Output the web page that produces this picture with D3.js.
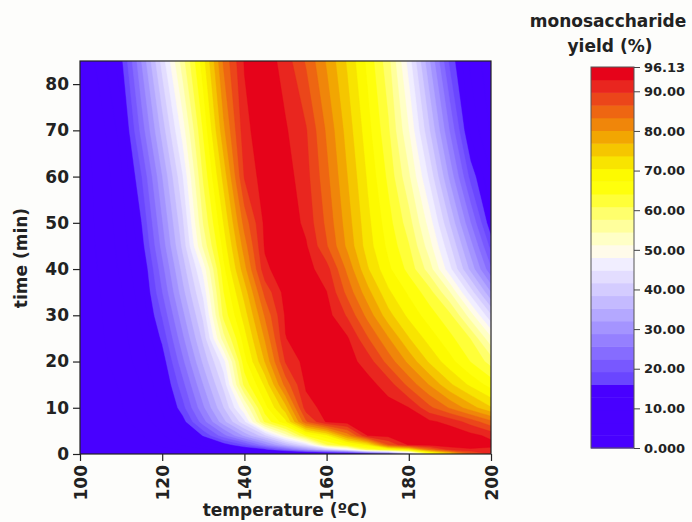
<!DOCTYPE html>
<html>
<head>
<meta charset="utf-8">
<script src="https://cdn.jsdelivr.net/npm/d3@7.9.0/dist/d3.min.js"></script>
<style>
  body { margin: 0; background: #fdfdfb; }
  svg { display: block; }
  text { font-family: "DejaVu Sans", sans-serif; font-weight: bold; fill: #222; }
</style>
</head>
<body>
<svg id="chart" width="692" height="522"></svg>
<script>
// grid of the response surface
const temps = [100, 105, 110, 115, 120, 125, 130, 135, 140, 145, 150, 155, 160, 165, 170, 175, 180, 185, 190, 195, 200];
const times = [0, 1, 2, 4, 7, 10, 15, 20, 25, 30, 35, 40, 45, 50, 60, 70, 85];

// yield (%) along temperature, one array per time (min)
const yieldT0  = [0, 0, 0, 0, 0, 0, 0, 0, 0.5, 1, 1.5, 2, 2.5, 3, 8, 16, 35, 58, 72, 85, 90];
const yieldT1  = [0.1, 0.3, 0.6, 1.2, 2.2, 3.8, 6, 9, 12, 15, 22.6, 30.8, 39, 47.2, 61.7, 66, 70.3, 83.7, 91, 92.5, 92];
const yieldT2  = [0.2, 0.5, 1, 2, 4, 7, 10.5, 14, 19.3, 27.5, 35.8, 44, 60.5, 65.7, 71, 86.4, 93.3, 94.2, 94.8, 94.8, 94];
const yieldT4  = [0.3, 0.8, 1.5, 3, 6, 10.5, 16.3, 24.5, 32.7, 40.8, 52.5, 64.4, 69.8, 81, 93, 94, 95, 96, 95.5, 94, 92];
const yieldT7  = [0.5, 1, 2.5, 4.5, 8.5, 14.5, 24.3, 34.2, 44, 61.6, 69.6, 86, 93.4, 94.5, 95.6, 95.4, 94.5, 93.6, 91.8, 88.3, 84];
const yieldT10 = [0.5, 1.5, 3, 5.5, 10, 18, 28.2, 38.4, 50.8, 66, 75.6, 91.5, 94.1, 95.5, 95.3, 94.2, 93, 87.3, 82.9, 78.4, 74];
const yieldT15 = [1, 2, 3.5, 6.5, 12, 21.3, 32, 42.7, 61.8, 71.1, 84.5, 93.5, 95.1, 95.5, 94.1, 91.5, 85.5, 79.9, 74.3, 69.8, 66];
const yieldT20 = [1, 2.5, 4.5, 8, 14, 24.8, 35.9, 46.9, 66, 77.1, 90, 94.2, 96, 94.3, 91.5, 85.2, 79.2, 73.2, 68.4, 64, 59.5];
const yieldT25 = [1, 2.8, 5, 9.3, 16.7, 28, 39.4, 56.5, 69, 80.4, 92.8, 94.8, 95.3, 93.4, 86.8, 80.4, 73.9, 69.1, 65, 60.8, 52];
const yieldT30 = [1, 3, 5.5, 10.5, 19.5, 31, 42.5, 62, 72, 83.7, 93.4, 95.6, 94.3, 89.3, 82.1, 74.9, 69.6, 65.6, 61.6, 52.8, 42];
const yieldT35 = [1.2, 3.2, 6, 11.5, 22.3, 34, 45.7, 64.1, 75, 87.5, 94.3, 95.3, 93, 85.5, 78, 71.1, 66.7, 62.2, 54.5, 43.4, 32];
const yieldT40 = [1.5, 3.5, 7, 12.5, 24.4, 36.5, 49.1, 66.5, 78.9, 92, 95.5, 94.2, 91, 82.5, 74, 68, 63, 56, 45.7, 34.3, 22.9];
const yieldT45 = [1.5, 3.8, 7.5, 14.5, 26.8, 39.3, 55.2, 68.7, 81.7, 93.4, 96, 93.3, 86.8, 79.4, 72, 66.5, 61.1, 52.6, 42.1, 30.2, 18];
const yieldT50 = [1.5, 4, 8, 16, 28.5, 41, 57.8, 70.8, 84.5, 93.8, 95.4, 92, 85.7, 78.5, 71.4, 65.4, 59.1, 49.8, 38.2, 25.8, 13.5];
const yieldT60 = [2, 4, 9, 19.1, 31.9, 44.7, 61.3, 75, 90, 94.8, 94.4, 90.9, 84.2, 77, 70, 63.3, 55, 44.1, 31.1, 18.1, 10];
const yieldT70 = [2, 5, 11, 23.7, 36.5, 49.5, 64.5, 79.5, 91.8, 95.4, 93.3, 90, 82.8, 75.6, 68.5, 61.4, 51.3, 38.7, 25.3, 12, 6];
const yieldT85 = [3, 8, 15, 29, 43, 56.3, 69.3, 84, 93.2, 95, 91.4, 86.1, 79.7, 73.3, 66.4, 58.8, 46.6, 32.4, 18.3, 9, 4];

const yieldRows = [yieldT0, yieldT1, yieldT2, yieldT4, yieldT7, yieldT10, yieldT15, yieldT20, yieldT25,
                   yieldT30, yieldT35, yieldT40, yieldT45, yieldT50, yieldT60, yieldT70, yieldT85];

const xTicks = [100, 120, 140, 160, 180, 200];
const yTicks = [0, 10, 20, 30, 40, 50, 60, 70, 80];
const barTicks = [0, 10, 20, 30, 40, 50, 60, 70, 80, 90, 96.13];
const barLabels = ["0.000", "10.00", "20.00", "30.00", "40.00", "50.00", "60.00", "70.00", "80.00", "90.00", "96.13"];
const yieldMax = 96.13;

// 30 colour levels, bottom to top
const bandColors = [
  "#4800ff", "#4800ff", "#4800ff", "#4800ff", "#4800ff",
  "#6a46ff", "#7858ff", "#866cff", "#9580ff", "#a494ff",
  "#b4a8ff", "#c4baff", "#d4ccff", "#e3ddff", "#f1eeff",
  "#fffbea", "#ffffc6", "#ffff9c", "#ffff6c", "#ffff38",
  "#ffff0c", "#fdfa00", "#f8e400", "#f5c600", "#f2a602",
  "#f0860a", "#ee6612", "#eb461a", "#e9261f", "#e6031a"
];

const svg = d3.select("#chart");
const plot = { left: 80, right: 491, top: 61, bottom: 454 };

const x = d3.scaleLinear().domain([100, 200]).range([plot.left, plot.right]);
const y = d3.scaleLinear().domain([0, 85]).range([plot.bottom, plot.top]);

const colorScale = d3.scaleQuantize().domain([0, yieldMax]).range(bandColors);
const thresholds = [0].concat(colorScale.thresholds());

// grid index -> data value (piecewise linear over the read grid)
const tempOfIndex = d3.scaleLinear().domain(d3.range(temps.length)).range(temps).clamp(true);
const timeOfIndex = d3.scaleLinear().domain(d3.range(times.length)).range(times).clamp(true);

const nx = temps.length, ny = times.length;
const values = [];
yieldRows.forEach(row => row.forEach(v => values.push(v)));

const contours = d3.contours().size([nx, ny]).thresholds(thresholds)(values);

const gridToScreen = d3.geoTransform({
  point(px, py) {
    this.stream.point(x(tempOfIndex(px - 0.5)), y(timeOfIndex(py - 0.5)));
  }
});
const path = d3.geoPath(gridToScreen);

svg.append("clipPath").attr("id", "plotClip")
  .append("rect")
  .attr("x", plot.left).attr("y", plot.top)
  .attr("width", plot.right - plot.left).attr("height", plot.bottom - plot.top);

svg.append("g")
  .attr("clip-path", "url(#plotClip)")
  .selectAll("path")
  .data(contours)
  .join("path")
  .attr("d", path)
  .attr("fill", (d, i) => bandColors[i])
  .attr("stroke", (d, i) => bandColors[i])
  .attr("stroke-width", 0.4);

svg.append("rect")
  .attr("x", plot.left).attr("y", plot.top)
  .attr("width", plot.right - plot.left).attr("height", plot.bottom - plot.top)
  .attr("fill", "none").attr("stroke", "#222").attr("stroke-width", 1.2);

// axes
const yAxis = svg.append("g")
  .attr("transform", `translate(${plot.left},0)`)
  .call(d3.axisLeft(y).tickValues(yTicks).tickSize(7).tickPadding(4).tickSizeOuter(0));
yAxis.select(".domain").remove();
yAxis.selectAll("line").attr("stroke", "#222").attr("stroke-width", 1.2);
yAxis.selectAll("text").style("font-size", "17px").attr("fill", "#222");

const xAxis = svg.append("g")
  .attr("transform", `translate(0,${plot.bottom})`)
  .call(d3.axisBottom(x).tickValues(xTicks).tickSize(7).tickSizeOuter(0));
xAxis.select(".domain").remove();
xAxis.selectAll("line").attr("stroke", "#222").attr("stroke-width", 1.2);
xAxis.selectAll("text")
  .style("font-size", "17px").attr("fill", "#222")
  .attr("transform", "rotate(-90)")
  .attr("text-anchor", "end")
  .attr("x", -11).attr("y", 0).attr("dy", "0.36em");

svg.append("text")
  .attr("x", 285).attr("y", 516)
  .attr("text-anchor", "middle")
  .style("font-size", "17px")
  .text("temperature (ºC)");

svg.append("text")
  .attr("transform", "translate(27,258) rotate(-90)")
  .attr("text-anchor", "middle")
  .style("font-size", "17px")
  .text("time (min)");

// colour bar
const bar = { x: 591, width: 43 };
const yBar = d3.scaleLinear().domain([0, yieldMax]).range([448, 67]);
const barEdges = thresholds.concat([yieldMax]);

svg.append("g")
  .selectAll("rect")
  .data(bandColors)
  .join("rect")
  .attr("x", bar.x)
  .attr("width", bar.width)
  .attr("y", (d, i) => yBar(barEdges[i + 1]))
  .attr("height", (d, i) => yBar(barEdges[i]) - yBar(barEdges[i + 1]) + 0.5)
  .attr("fill", d => d);

svg.append("rect")
  .attr("x", bar.x).attr("y", yBar(yieldMax))
  .attr("width", bar.width).attr("height", yBar(0) - yBar(yieldMax))
  .attr("fill", "none").attr("stroke", "#555").attr("stroke-width", 1);

const barAxis = svg.append("g")
  .attr("transform", `translate(${bar.x + bar.width},0)`)
  .call(d3.axisRight(yBar).tickValues(barTicks).tickSize(6).tickPadding(4)
    .tickFormat((d, i) => barLabels[i]));
barAxis.select(".domain").remove();
barAxis.selectAll("line").attr("stroke", "#444");
barAxis.selectAll("text").style("font-size", "13px").attr("fill", "#222");

svg.append("text")
  .attr("x", 608).attr("y", 27)
  .attr("text-anchor", "middle")
  .style("font-size", "17px")
  .text("monosaccharide");
svg.append("text")
  .attr("x", 610).attr("y", 52)
  .attr("text-anchor", "middle")
  .style("font-size", "17px")
  .text("yield (%)");
</script>
</body>
</html>
